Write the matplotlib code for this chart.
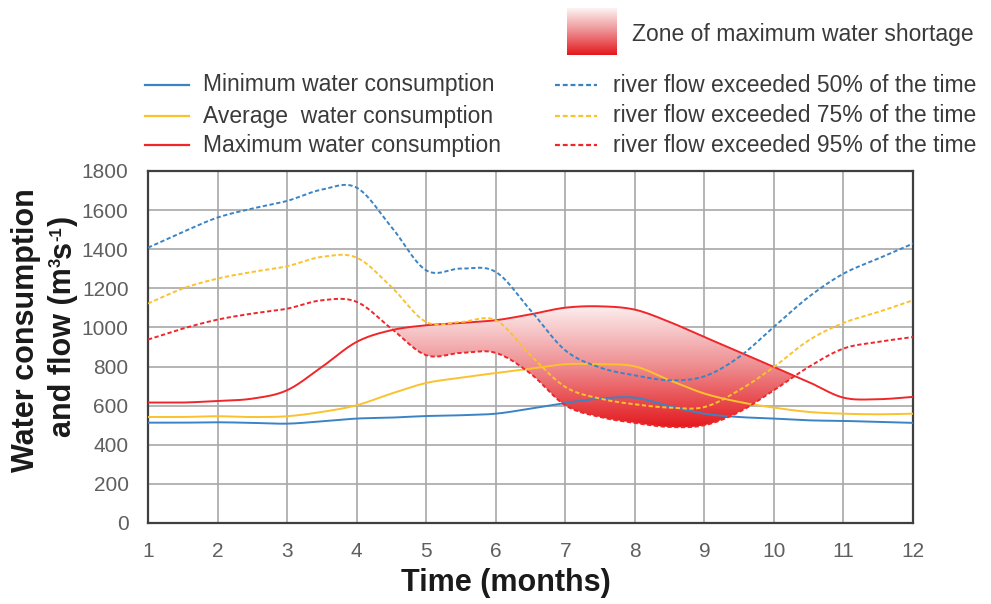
#!/usr/bin/env python3

import numpy as np
import matplotlib
matplotlib.use("Agg")
import matplotlib.pyplot as plt
from matplotlib.lines import Line2D
from matplotlib.path import Path
from matplotlib.colors import LinearSegmentedColormap

plt.rcParams['font.family'] = ['Liberation Sans', 'DejaVu Sans']

# half-month readings, months 1..12
months = [1, 1.5, 2, 2.5, 3, 3.5, 4, 4.5, 5, 5.5, 6, 6.5,
          7, 7.5, 8, 8.5, 9, 9.5, 10, 10.5, 11, 11.5, 12]

cons_min = [513, 513, 515, 512, 508, 520, 534, 539, 547, 551, 559, 585,
            614, 636, 641, 597, 559, 542, 534, 525, 522, 517, 512]
cons_avg = [542, 542, 546, 542, 546, 568, 602, 662, 716, 743, 767, 789,
            812, 812, 801, 730, 662, 619, 590, 568, 559, 556, 559]
cons_max = [616, 616, 624, 636, 679, 798, 926, 986, 1011, 1023, 1037, 1067,
            1101, 1108, 1091, 1028, 951, 875, 798, 721, 641, 633, 645]

flow_50 = [1408, 1488, 1562, 1608, 1647, 1705, 1715, 1514, 1292, 1301, 1284, 1088,
           883, 795, 755, 730, 750, 849, 1003, 1156, 1275, 1352, 1429]
flow_75 = [1122, 1199, 1250, 1284, 1313, 1361, 1357, 1207, 1028, 1028, 1037, 858,
           696, 636, 607, 590, 593, 679, 798, 934, 1023, 1079, 1139]
flow_95 = [938, 994, 1040, 1071, 1096, 1139, 1131, 994, 858, 870, 870, 764,
           602, 542, 512, 491, 500, 568, 679, 798, 892, 926, 951]

labels_cons = ['Minimum water consumption', 'Average  water consumption',
               'Maximum water consumption']
labels_flow = ['river flow exceeded 50% of the time',
               'river flow exceeded 75% of the time',
               'river flow exceeded 95% of the time']
zone_label = 'Zone of maximum water shortage'

BLUE = '#3a84c6'
YELLOW = '#fbc22e'
RED = '#f0262a'
colors = [BLUE, YELLOW, RED]

W, H = 991, 604


def fx(px):
    return px / W


def fy(py):
    return 1 - py / H


def smooth(x, y, n=24):
    # catmull-rom, like the smoothed lines of a spreadsheet chart
    x = np.asarray(x, float)
    y = np.asarray(y, float)
    xp = np.concatenate([[x[0]], x, [x[-1]]])
    yp = np.concatenate([[y[0]], y, [y[-1]]])
    xs, ys = [], []
    t = np.linspace(0, 1, n, endpoint=False)
    for i in range(1, len(xp) - 2):
        for arr, out in ((xp, xs), (yp, ys)):
            p0, p1, p2, p3 = arr[i - 1], arr[i], arr[i + 1], arr[i + 2]
            out.append(0.5 * (2 * p1 + (-p0 + p2) * t
                              + (2 * p0 - 5 * p1 + 4 * p2 - p3) * t ** 2
                              + (-p0 + 3 * p1 - 3 * p2 + p3) * t ** 3))
    xs.append([x[-1]])
    ys.append([y[-1]])
    return np.concatenate(xs), np.concatenate(ys)


fig = plt.figure(figsize=(W / 100, H / 100), dpi=100)
ax = fig.add_axes([fx(148), fy(523), fx(913) - fx(148), fy(171) - fy(523)])

# shortage zone: between max consumption and 95% flow, gradient fill
sx, smax = smooth(months, cons_max)
_, s95 = smooth(months, flow_95)
poly = ax.fill_between(sx, s95, smax, where=smax > s95, interpolate=True,
                       facecolor='none', edgecolor='none')
cmap = LinearSegmentedColormap.from_list('zone', ['#e3171b', '#ee8d90', '#fdf3f3'])
grad = np.linspace(0, 1, 256).reshape(-1, 1)
im = ax.imshow(grad, cmap=cmap, origin='lower', aspect='auto',
               extent=[1, 12, 480, 1120], zorder=1)
im.set_clip_path(Path.make_compound_path(*poly.get_paths()), transform=ax.transData)

for vals, c in zip([cons_min, cons_avg, cons_max], colors):
    xs, ys = smooth(months, vals)
    ax.plot(xs, ys, color=c, lw=1.4, zorder=3)
for vals, c in zip([flow_50, flow_75, flow_95], colors):
    xs, ys = smooth(months, vals)
    ax.plot(xs, ys, color=c, lw=1.4, ls=(0, (2.2, 1.3)), zorder=3)

ax.set_xlim(1, 12)
ax.set_ylim(0, 1800)
ax.set_xticks(range(1, 13))
ax.set_yticks(range(0, 1801, 200))
ax.grid(True, color='#a8a8a8', lw=1.2, zorder=0)
ax.set_axisbelow(True)
ax.tick_params(length=0, labelsize=15, labelcolor='#5f5f5f')
ax.tick_params(axis='y', pad=14)
ax.tick_params(axis='x', pad=14)
for s in ax.spines.values():
    s.set_color('#3f3f3f')
    s.set_linewidth(1.6)

# axis titles
fig.text(fx(506), fy(583), 'Time (months)', ha='center', va='center',
         fontsize=22, fontweight='bold', color='#1a1a1a')
fig.text(fx(26), fy(330), 'Water consumption', rotation=90, ha='center',
         va='center', fontsize=22, fontweight='bold', color='#1a1a1a')

# second line of the y title, built piece by piece for small superscripts
renderer = fig.canvas.get_renderer()
pieces = [('and flow (m', 22, 71), ('3', 12, 61), ('s', 22, 71),
          ('-1', 12, 61), (')', 22, 71)]
ypos = 437
for txt, size, base in pieces:
    t = fig.text(fx(base), fy(ypos), txt, rotation=90, rotation_mode='anchor',
                 ha='left', va='baseline', fontsize=size, fontweight='bold',
                 color='#1a1a1a')
    bb = t.get_window_extent(renderer)
    ypos -= bb.height

# legends
rows = [85, 116, 145]
for lab, c, r in zip(labels_cons, colors, rows):
    fig.add_artist(Line2D([fx(145), fx(189)], [fy(r), fy(r)], color=c, lw=1.6))
    fig.text(fx(203), fy(r), lab, ha='left', va='center', fontsize=16.5,
             color='#3a3a3a')
for lab, c, r in zip(labels_flow, colors, rows):
    fig.add_artist(Line2D([fx(555), fx(597)], [fy(r), fy(r)], color=c, lw=1.6,
                          ls=(0, (2.2, 1.3))))
    fig.text(fx(613), fy(r), lab, ha='left', va='center', fontsize=16.5,
             color='#3a3a3a')

lax = fig.add_axes([fx(567), fy(55), fx(617) - fx(567), fy(8) - fy(55)])
lax.imshow(grad, cmap=cmap, origin='lower', aspect='auto')
lax.axis('off')
fig.text(fx(632), fy(34), zone_label, ha='left', va='center', fontsize=16.5,
         color='#3a3a3a')

fig.savefig('out.png', dpi=100)
